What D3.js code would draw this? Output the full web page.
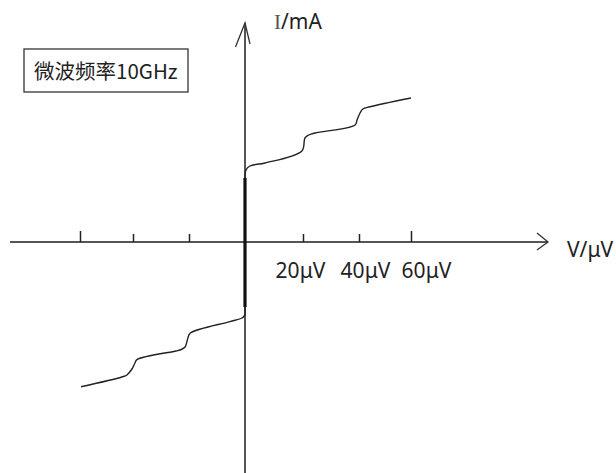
<!DOCTYPE html>
<html><head><meta charset="utf-8">
<script src="https://cdn.jsdelivr.net/npm/d3@7"></script>
<style>
html,body{margin:0;padding:0;background:#fff;}
svg{display:block;}
</style></head>
<body>
<svg id="chart" width="616" height="473"></svg>
<script>
// ---- data ----
const tickValues = [-60, -40, -20, 20, 40, 60];          // μV
const tickLabels = ["", "", "", "20μV", "40μV", "60μV"];
const xAxisTitle = "V/μV";
const yAxisTitle = "mA";
const legendText = "微波频率10GHz";

// supercurrent (zero-voltage) segment
const superV = [0, 0];
const superI = [-1.625, 1.6];

// positive branch (V in μV, I in mA)
const posV = [0, 0.34, 1.7, 6.9, 19.6, 20.7, 22.1, 24.3, 38.6, 39.3, 40.4, 41.5, 44.2, 60];
const posI = [1.6, 1.8, 1.9, 1.975, 2.275, 2.6, 2.675, 2.725, 2.925, 3.05, 3.225, 3.325, 3.38, 3.6];

// negative branch
const negV = [0, -1.07, -5.4, -19.6, -20.4, -21.4, -23.2, -24.6, -38.6, -39.3, -40.4, -42.3, -44.2, -59.6];
const negI = [-1.825, -1.9, -1.99, -2.28, -2.4, -2.625, -2.7, -2.725, -2.94, -3.025, -3.175, -3.325, -3.375, -3.62];

// ---- layout ----
const svg = d3.select("#chart");
const x = d3.scaleLinear()
  .domain([-60, -40, -20, 0, 20, 40, 60])
  .range([80, 133, 189, 245, 303, 359, 411]);
const y = d3.scaleLinear().domain([-5.775, 5.5]).range([473, 22]);

const x0 = x(0), y0 = y(0);
const axisColor = "#555";
const latin = "'Noto Sans', 'DejaVu Sans', sans-serif";

// x axis line + arrow
svg.append("line").attr("x1", 10).attr("x2", 548).attr("y1", y0).attr("y2", y0)
  .attr("stroke", axisColor).attr("stroke-width", 2);
svg.append("path").attr("d", `M${537},${y0-9}L${548},${y0}L${537},${y0+8}`)
  .attr("fill", "none").attr("stroke", "#333").attr("stroke-width", 1.3);

// y axis line + arrow
svg.append("line").attr("x1", x0).attr("x2", x0).attr("y1", 473).attr("y2", 23)
  .attr("stroke", axisColor).attr("stroke-width", 2);
svg.append("path").attr("d", `M${x0-9.5},${47}L${x0},${23}L${x0+5},${44}`)
  .attr("fill", "none").attr("stroke", "#333").attr("stroke-width", 1.3);

// ticks via d3 axis
const xAxis = d3.axisBottom(x)
  .tickValues(tickValues)
  .tickSizeInner(-9).tickSizeOuter(0)
  .tickPadding(21)
  .tickFormat((d, i) => tickLabels[i]);
const gx = svg.append("g").attr("transform", `translate(0,${y0})`).call(xAxis);
gx.select(".domain").remove();
gx.selectAll(".tick line").attr("stroke", "#222").attr("stroke-width", 1.5)
  .attr("y2", d => Math.abs(d) === 60 ? -11 : -8);
gx.selectAll(".tick text")
  .attr("font-family", latin).attr("font-size", 21)
  .attr("fill", "#222").attr("dx", d => 6 + (d - 40) * 0.45);

// axis titles
svg.append("text").attr("x", 567).attr("y", 257)
  .attr("font-family", latin).attr("font-size", 21).attr("fill", "#222")
  .text(xAxisTitle);
const yt = svg.append("text").attr("x", 274).attr("y", 29)
  .attr("font-size", 21).attr("fill", "#222");
yt.append("tspan").attr("font-family", "'Liberation Serif', serif").attr("fill", "#555").text("I");
yt.append("tspan").attr("font-family", latin).text("/" + yAxisTitle);

// legend box
svg.append("rect").attr("x", 24).attr("y", 49).attr("width", 164).attr("height", 43)
  .attr("fill", "none").attr("stroke", "#333").attr("stroke-width", 1.3);
svg.append("text").attr("x", 34).attr("y", 79)
  .attr("font-family", "'Noto Sans CJK SC', 'Noto Sans', sans-serif").attr("font-size", 20.5)
  .attr("fill", "#222").text(legendText);

// curves
const line = d3.line().x(d => x(d[0])).y(d => y(d[1])).curve(d3.curveCatmullRom.alpha(0.5));
const zip = (a, b) => a.map((v, i) => [v, b[i]]);

svg.append("path").datum(zip(superV, superI))
  .attr("d", d3.line().x(d => x(d[0])).y(d => y(d[1])))
  .attr("stroke", "#111").attr("stroke-width", 3.2).attr("fill", "none");
svg.append("path").datum(zip(posV, posI)).attr("d", line)
  .attr("stroke", "#222").attr("stroke-width", 1.4).attr("fill", "none");
svg.append("path").datum(zip(negV, negI)).attr("d", line)
  .attr("stroke", "#222").attr("stroke-width", 1.4).attr("fill", "none");
svg.append("path").datum(zip([0, 0], [superI[0], negI[0]])).attr("d", line)
  .attr("stroke", "#222").attr("stroke-width", 1.4).attr("fill", "none");
</script>
</body></html>
